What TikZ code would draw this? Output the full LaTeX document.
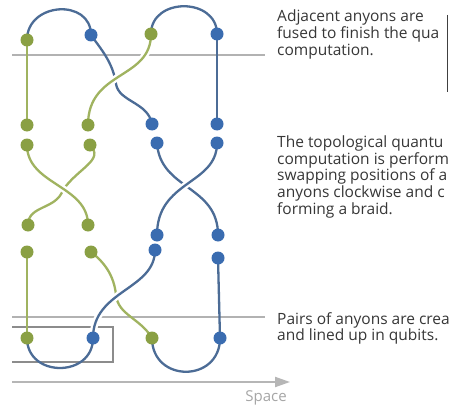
\documentclass[tikz,border=0pt]{standalone}
\usepackage{fontspec}
\setsansfont{Open Sans}
\usetikzlibrary{arrows.meta, backgrounds}
\definecolor{anygreen}{RGB}{138,160,68}
\definecolor{strgreen}{RGB}{160,179,96}
\definecolor{anyblue}{RGB}{58,108,176}
\definecolor{strblue}{RGB}{76,108,150}
\definecolor{rulegray}{RGB}{178,178,178}
\definecolor{boxgray}{RGB}{140,140,140}
\definecolor{notegray}{RGB}{55,55,55}
\definecolor{axisgray}{RGB}{182,182,182}
\tikzset{
  anyg/.style={circle, fill=anygreen, inner sep=0pt, minimum size=13pt},
  anyb/.style={circle, fill=anyblue, inner sep=0pt, minimum size=13pt},
  gstr/.style={draw=strgreen, line width=2.3pt},
  bstr/.style={draw=strblue, line width=2.3pt},
  over/.style={preaction={draw=white, line width=7pt}},
  rule/.style={draw=rulegray, line width=1.3pt},
  note/.style={anchor=base west, align=left, inner sep=0pt, text=notegray,
               font=\sffamily\fontsize{15.5}{#1}\selectfont},
  note/.default=15.5,
}
\begin{document}
\begin{tikzpicture}[x=1pt, y=-1pt]
\useasboundingbox (0,0) rectangle (449,409);
\clip (0,0) rectangle (449,409);

% Anyonen (Reihen a bis f)
\foreach \n/\x/\y/\s in {a1/27/40/anyg, a2/91/35/anyb, a3/151/34/anyg, a4/217/34/anyb,
                         b1/27/125/anyg, b2/88/125/anyg, b3/152/124/anyb, b4/217/124/anyb,
                         c1/27/145/anyg, c2/90/145/anyg, c3/157/143/anyb, c4/217/143/anyb,
                         d1/28/225/anyg, d2/88/225/anyg, d3/157/235/anyb, d4/218/235/anyb,
                         e1/27/252/anyg, e2/91/252/anyg, e3/155/250/anyb, e4/218/258/anyb,
                         f1/27/338/anyg, f2/93/338/anyb, f3/152/338/anyg, f4/220/338/anyb}
  \node[\s] (\n) at (\x,\y) {};

% Texte (Basislinie der letzten Zeile)
\node[note=17] (fuse) at (277,55.5) {Adjacent anyons are\\fused to finish the qua\\computation.};
\node[note=14.5] (braid) at (277,214) {The topological quantu\\computation is perform\\swapping positions of a\\anyons clockwise and c\\forming a braid.};
\node[note=15.5] (pairs) at (277,340) {Pairs of anyons are crea\\and lined up in qubits.};
\node[font=\sffamily\fontsize{15}{15}\selectfont, text=black!35] (space) at (266,398) {Space};

\begin{scope}[on background layer]
\fill[white] (0,0) rectangle (449,409);
% Linien, Rahmen, Achse
\draw[rule] (12,55) -- (265,55);
\draw[rule] (12,317) -- (265,317);
\draw[boxgray, line width=1.3pt] (12,327) -- (113,327) -- (113,362) -- (12,362);
\draw[axisgray, line width=2pt, -{Triangle[length=15pt, width=10pt]}] (12,382) -- (290,382);
\draw[black!75, line width=1.5pt] (447.5,15) -- (447.5,92);

% oben: Fusion
\draw[bstr] (a1.center) .. controls +(0,-38) and +(0,-37) .. (a2.center);
\draw[bstr] (a3.center) .. controls +(0,-37) and +(0,-37) .. (a4.center);
\draw[gstr] (a1.center) -- (b1.center);
\draw[bstr] (a4.center) -- (b4.center);
\draw[bstr] (a2.center) .. controls (100,48) and (113,62) .. (116,84) .. controls (119,102) and (148,102) .. (b3.center);
\draw[gstr, over] (a3.center) .. controls (151,80) and (88,70) .. (b2.center);

% Mitte: Zopf
\draw[gstr] (c2.center) .. controls (105,160) and (78,168) .. (63,190) .. controls (56,210) and (28,205) .. (d1.center);
\draw[gstr, over] (c1.center) .. controls (27,185) and (88,185) .. (d2.center);
\draw[bstr] (c3.center) .. controls (160,190) and (218,185) .. (d4.center);
\draw[bstr, over] (c4.center) .. controls (217,185) and (157,180) .. (d3.center);

% unten: Erzeugung der Paare
\draw[gstr] (e1.center) -- (f1.center);
\draw[bstr] (e4.center) -- (f4.center);
\draw[gstr] (e2.center) .. controls (104,262) and (114,275) .. (116,295) .. controls (118,315) and (140,318) .. (f3.center);
\draw[bstr, over] (e3.center) .. controls (155,290) and (93,290) .. (f2.center);
\draw[bstr] (f1.center) .. controls +(0,40) and +(0,40) .. (f2.center);
\draw[bstr] (f3.center) .. controls +(0,45) and +(0,45) .. (f4.center);
\end{scope}
\end{tikzpicture}
\end{document}
